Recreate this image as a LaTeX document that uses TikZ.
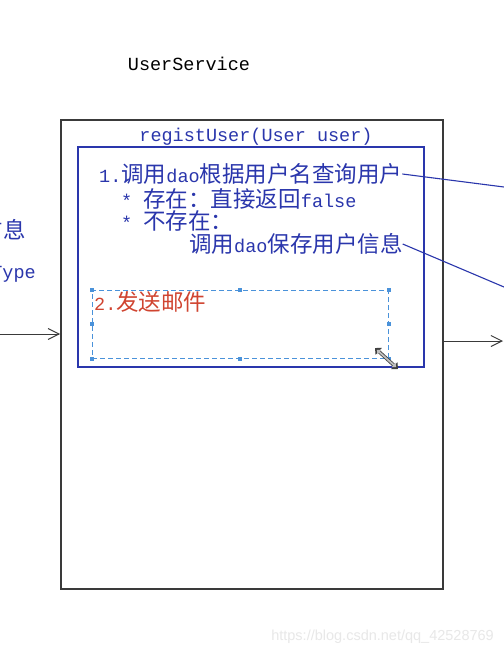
\documentclass[tikz,border=0pt]{standalone}
\usepackage{fontspec}
\setmainfont{Liberation Mono}
\newfontfamily\cjk{Noto Sans CJK SC}
\newfontfamily\wmfont{Liberation Sans}
\usetikzlibrary{arrows.meta}
\definecolor{dblue}{HTML}{2A36AC}
\definecolor{lblue}{HTML}{4A92DA}
\definecolor{dred}{HTML}{D04430}
\definecolor{framec}{HTML}{3A3A3A}
\newcommand\cj[1]{{\fontsize{22.5}{24}\selectfont\cjk #1}}
\tikzset{
  mono/.style={inner sep=0pt, font=\fontsize{18.5}{20}\selectfont},
  btxt/.style={mono, text=dblue, anchor=west},
  arr/.style={framec, line width=1pt, -{Straight Barb[length=11pt,width=11pt]}},
  blink/.style={dblue, line width=1.1pt},
  handle/.style={fill=lblue, draw=none, minimum size=4pt, inner sep=0pt},
}
\begin{document}
\begin{tikzpicture}[x=1pt,y=-1pt]
\useasboundingbox (0,0) rectangle (504,657);
\clip (0,0) rectangle (504,657);
\fill[white] (0,0) rectangle (504,657);

\node[mono, text=black] (title) at (189,64) {UserService};

\node[draw=framec, line width=1.6pt, minimum width=382pt, minimum height=469pt, inner sep=0pt] (svc) at (252,354.5) {};
\node[mono, text=dblue] (method) at (256,137) {registUser(User user)};
\node[draw=dblue, line width=1.3pt, minimum width=346pt, minimum height=220pt, inner sep=0pt] (inner) at (251,257) {};

\node[btxt] (l1) at (99,174) {1.\cj{调用}dao\cj{根据用户名查询用户}};
\node[btxt] (l2) at (121,199) {*\ \cj{存在：直接返回}false};
\node[btxt] (l3) at (121,221) {*\ \cj{不存在：}};
\node[btxt] (l4) at (189,244) {\cj{调用}dao\cj{保存用户信息}};

\node[draw=lblue, dashed, dash pattern=on 5pt off 3pt, line width=1pt, minimum width=296pt, minimum height=68pt, inner sep=0pt] (mail) at (240,324) {};
\foreach \a in {north west,north,north east,west,east,south west,south,south east}
  \node[handle] at (mail.\a) {};
\node[mono, text=dred, anchor=west] (s2) at (94,302) {2.\cj{发送邮件}};

\draw[black!75, line width=3.4pt, {Triangle[length=5pt,width=9pt]}-{Triangle[length=5pt,width=9pt]}] (375,348) -- (398,369);
\draw[black!25, line width=1.8pt, {Triangle[length=3.5pt,width=5.5pt]}-{Triangle[length=3.5pt,width=5.5pt]}] (376.8,349.8) -- (396.2,367.2);

\node[mono, text=dblue, anchor=east] (lt1) at (26,230) {\cj{信息}};
\node[mono, text=dblue, anchor=east] (lt2) at (36,274) {Type};

\coordinate (inL) at (0,334);
\draw[arr] (inL) -- (inL -| svc.west);
\coordinate (outR) at (503,341);
\draw[arr] (outR -| svc.east) -- (outR);

\coordinate (r1) at (504,187);
\coordinate (r2) at (504,287);
\draw[blink] (l1.east) -- (r1);
\draw[blink] (l4.east) -- (r2);

\node[inner sep=0pt, anchor=east, text=black!9, font=\wmfont\fontsize{14.5}{16}\selectfont] (wm) at (494,637) {https://blog.csdn.net/qq\_42528769};
\end{tikzpicture}
\end{document}
